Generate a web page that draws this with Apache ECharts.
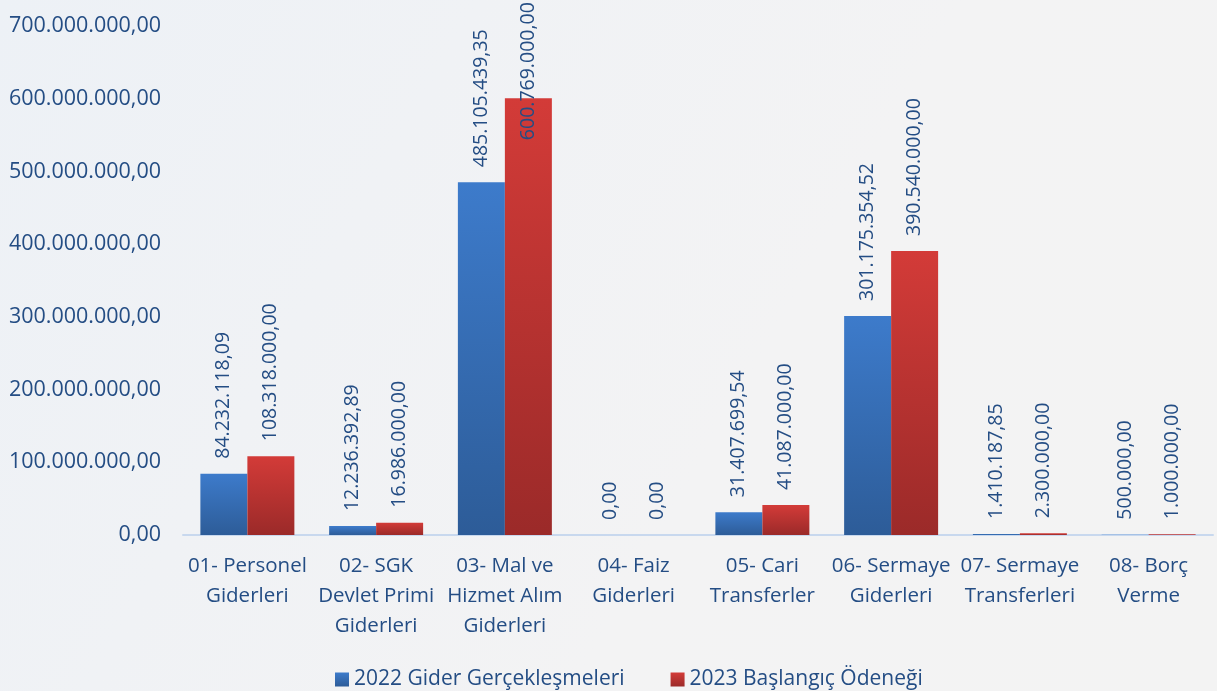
<!DOCTYPE html>
<html><head><meta charset="utf-8">
<script src="https://cdn.jsdelivr.net/npm/echarts@6/dist/echarts.min.js"></script>
<style>html,body{margin:0;padding:0;}#c{width:1217px;height:691px;}</style>
</head><body><div id="c"></div>
<script>
const categories = ["01- Personel\nGiderleri","02- SGK\nDevlet Primi\nGiderleri","03- Mal ve\nHizmet Alım\nGiderleri","04- Faiz\nGiderleri","05- Cari\nTransferler","06- Sermaye\nGiderleri","07- Sermaye\nTransferleri","08- Borç\nVerme"];
const seriesNames = ["2022 Gider Gerçekleşmeleri","2023 Başlangıç Ödeneği"];
const values2022 = [84232118.09,12236392.89,485105439.35,0,31407699.54,301175354.52,1410187.85,500000];
const values2023 = [108318000,16986000,600769000,0,41087000,390540000,2300000,1000000];
const yTicks = {min:0,max:700000000,interval:100000000};

function fmt(v){
  const neg = v<0; v=Math.abs(v);
  let s = v.toFixed(2); let [i,d]=s.split('.');
  i = i.replace(/\B(?=(\d{3})+(?!\d))/g,'.');
  return (neg?'-':'')+i+','+d;
}
const txt = '#244D84';
const font = "'Open Sans', sans-serif";
function grad(top,bot){return new echarts.graphic.LinearGradient(0,0,0,1,[{offset:0,color:top},{offset:1,color:bot}]);}
const baseLabel = {show:true,position:'top',rotate:90,align:'left',verticalAlign:'middle',distance:15,color:txt,fontSize:19.5,fontFamily:font,formatter:p=>fmt(p.value)};
const d2023 = values2023.map((v,i)=> i===2 ? {value:v,label:{offset:[-57,0]}} : v);
const chart = echarts.init(document.getElementById('c'));
chart.setOption({
  backgroundColor: new echarts.graphic.LinearGradient(0,0,1,1,[{offset:0,color:'#EDF1F6'},{offset:0.6,color:'#F3F3F4'},{offset:1,color:'#F3F3F3'}]),
  animation:false,
  grid:{left:183,right:4,top:26,bottom:156},
  legend:{top:664,left:330,itemWidth:14,itemHeight:14,itemGap:46,icon:'rect',textStyle:{color:txt,fontSize:21,fontFamily:font},data:seriesNames},
  xAxis:{type:'category',data:categories,axisLine:{lineStyle:{color:'#C8D8EE',width:2}},axisTick:{show:false},
    axisLabel:{color:txt,fontSize:20.5,fontFamily:font,lineHeight:30,margin:16,interval:0}},
  yAxis:{type:'value',min:yTicks.min,max:yTicks.max,interval:yTicks.interval,splitLine:{show:false},axisLine:{show:false},axisTick:{show:false},
    axisLabel:{color:txt,fontSize:21.5,fontFamily:font,margin:22,formatter:v=>fmt(v)}},
  series:[
    {name:seriesNames[0],type:'bar',data:values2022,barGap:'0%',barCategoryGap:'27%',itemStyle:{color:grad('#3D7BCB','#2D5C98')},label:baseLabel},
    {name:seriesNames[1],type:'bar',data:d2023,itemStyle:{color:grad('#D33B38','#9B2A29')},label:baseLabel}
  ]
});
</script></body></html>
